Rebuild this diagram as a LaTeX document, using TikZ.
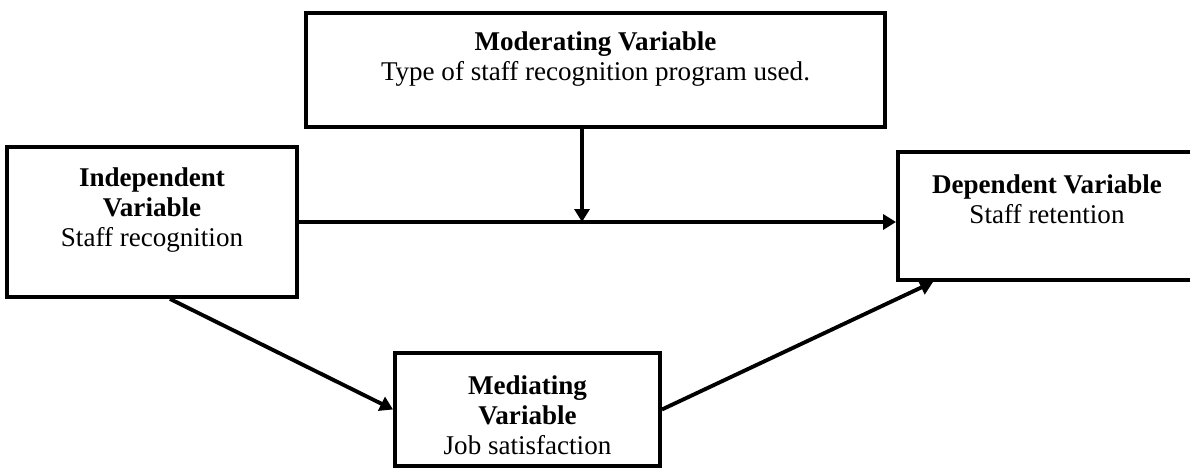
\documentclass[tikz,border=0pt]{standalone}
\usepackage{fontspec}
\setmainfont{Liberation Serif}
\usetikzlibrary{positioning,calc,arrows.meta}

\begin{document}
\begin{tikzpicture}[
    varbox/.style={draw,line width=2.2pt,inner sep=0pt},
    vartext/.style={align=center,inner sep=0pt,font=\fontsize{15.4}{17}\selectfont},
    link/.style={line width=2.2pt,-{Triangle[length=0.26cm,width=0.3cm]}}
  ]
  \useasboundingbox (0,0) rectangle (23.8,9.34);

  % the four variable boxes
  \node[varbox,minimum width=11.58cm,minimum height=2.28cm] (mod) at (11.91,7.94) {};
  \node[varbox,minimum width=5.8cm,minimum height=3cm] (indep) at (3.04,4.90) {};
  \node[varbox,minimum width=5.96cm,minimum height=2.56cm] (dep) at (20.94,5.02) {};
  \node[varbox,minimum width=5.3cm,minimum height=2.26cm] (med) at (10.55,1.15) {};

  % their texts
  \node[vartext] (modtxt) at ([yshift=0.22cm]mod.center)
    {\textbf{Moderating Variable}\\Type of staff recognition program used.};
  \node[vartext] (indeptxt) at ([yshift=0.24cm]indep.center)
    {\textbf{Independent}\\\textbf{Variable}\\Staff recognition};
  \node[vartext] (deptxt) at ([yshift=0.34cm]dep.center)
    {\textbf{Dependent Variable}\\Staff retention};
  \node[vartext] (medtxt) at ([yshift=-0.12cm]med.center)
    {\textbf{Mediating}\\\textbf{Variable}\\Job satisfaction};

  % direct path and moderation
  \draw[link] (indep.east) -- (indep.east -| dep.west);
  \coordinate (junction) at ([xshift=-0.27cm]indep.east -| mod.south);
  \draw[link] ([xshift=-0.27cm]mod.south) -- (junction);

  % mediated path
  \draw[link] ([xshift=0.36cm]indep.south) -- (med.west);
  \draw[link] (med.east) -- ([xshift=0.74cm]dep.south west);
\end{tikzpicture}
\end{document}
